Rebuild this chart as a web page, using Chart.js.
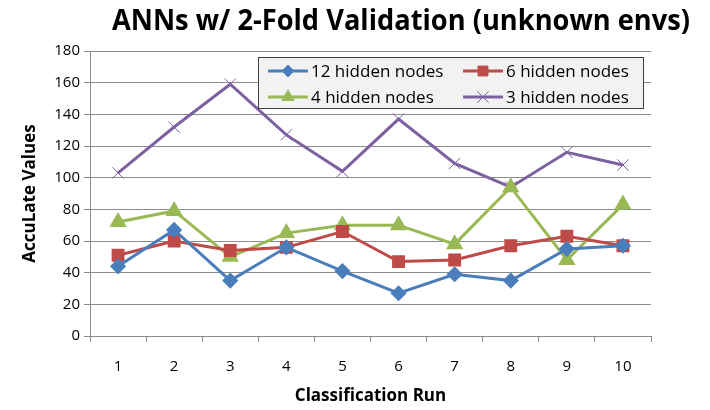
<!DOCTYPE html>
<html>
<head>
<meta charset="utf-8">
<script src="https://cdn.jsdelivr.net/npm/chart.js@4"></script>
<style>
  html, body { margin: 0; padding: 0; background: #fff; }
  #wrap { width: 710px; height: 410px; }
</style>
</head>
<body>
<div id="wrap"><canvas id="myChart" width="710" height="410"></canvas></div>
<script>
const runs = ['1', '2', '3', '4', '5', '6', '7', '8', '9', '10'];
const nodes12 = [44, 67, 35, 56, 41, 27, 39, 35, 55, 57];
const nodes6 = [51, 60, 54, 56, 66, 47, 48, 57, 63, 57];
const nodes4 = [72, 79, 50, 65, 70, 70, 58, 94, 48, 83];
const nodes3 = [103, 132, 159, 127, 104, 137, 109, 94, 116, 108];
const yTicks = [0, 20, 40, 60, 80, 100, 120, 140, 160, 180];

const fontFamily = '"Open Sans", "Liberation Sans", sans-serif';

// excel-like title and legend box drawn by hand
const extras = {
    id: 'extras',
    afterDraw(chart) {
        const ctx = chart.ctx;
        ctx.save();
        ctx.fillStyle = '#000';
        ctx.font = 'bold 29px ' + fontFamily;
        ctx.textAlign = 'center';
        ctx.textBaseline = 'middle';
        ctx.fillText('ANNs w/ 2-Fold Validation (unknown envs)', 401, 22, 578);

        // legend
        const bx = 258, by = 57, bw = 385, bh = 51;
        ctx.fillStyle = '#f2f2f2';
        ctx.fillRect(bx, by, bw, bh);
        ctx.strokeStyle = '#404040';
        ctx.lineWidth = 1;
        ctx.strokeRect(bx + 0.5, by + 0.5, bw, bh);

        const items = chart.data.datasets;
        const pos = [[268, 71], [463, 71], [268, 97], [463, 97]];
        ctx.font = '17px ' + fontFamily;
        ctx.textAlign = 'left';
        items.forEach((ds, i) => {
            const [x, y] = pos[i];
            ctx.strokeStyle = ds.borderColor;
            ctx.lineWidth = 3;
            ctx.beginPath();
            ctx.moveTo(x, y);
            ctx.lineTo(x + 40, y);
            ctx.stroke();
            ctx.fillStyle = ds.backgroundColor;
            ctx.lineWidth = ds.pointBorderWidth || 1;
            Chart.helpers.drawPoint(ctx, {
                pointStyle: ds.pointStyle,
                rotation: 0,
                radius: ds.pointRadius,
                borderWidth: ds.pointBorderWidth || 1
            }, x + 20, y);
            ctx.fillStyle = '#000';
            ctx.fillText(ds.label, x + 43, y + 1);
        });
        ctx.restore();
    }
};

const ctx = document.getElementById('myChart').getContext('2d');
new Chart(ctx, {
    type: 'line',
    data: {
        labels: runs,
        datasets: [{
            label: '12 hidden nodes',
            data: nodes12,
            borderColor: '#4a7ebb',
            backgroundColor: '#4a7ebb',
            pointStyle: 'rectRot',
            pointRadius: 6,
            borderWidth: 3
        }, {
            label: '6 hidden nodes',
            data: nodes6,
            borderColor: '#be4b48',
            backgroundColor: '#be4b48',
            pointStyle: 'rect',
            pointRadius: 7,
            borderWidth: 3
        }, {
            label: '4 hidden nodes',
            data: nodes4,
            borderColor: '#98b954',
            backgroundColor: '#98b954',
            pointStyle: 'triangle',
            pointRadius: 7,
            borderWidth: 3
        }, {
            label: '3 hidden nodes',
            data: nodes3,
            borderColor: '#7d60a0',
            backgroundColor: '#7d60a0',
            pointStyle: 'crossRot',
            pointRadius: 8,
            pointBorderWidth: 1,
            borderWidth: 3
        }]
    },
    options: {
        responsive: false,
        animation: false,
        layout: { padding: { left: 16, right: 59, top: 51, bottom: 0 } },
        plugins: {
            legend: { display: false },
            title: { display: false },
            tooltip: { enabled: false }
        },
        elements: { line: { tension: 0 } },
        scales: {
            x: {
                offset: true,
                grid: {
                    offset: true,
                    drawOnChartArea: false,
                    drawTicks: true,
                    tickLength: 6,
                    color: '#8c8c8c'
                },
                border: { color: '#8c8c8c' },
                ticks: { color: '#000', font: { family: fontFamily, size: 15 }, padding: 16 },
                title: {
                    display: true,
                    text: 'Classification Run',
                    color: '#000',
                    font: { family: fontFamily, size: 17, weight: 'bold' },
                    padding: { top: 2 }
                },
                afterFit(scale) { scale.height = 74; }
            },
            y: {
                min: 0,
                max: 180,
                afterBuildTicks(scale) { scale.ticks = yTicks.map(v => ({ value: v })); },
                grid: { color: '#8c8c8c', tickLength: 6 },
                border: { color: '#8c8c8c' },
                ticks: { color: '#000', font: { family: fontFamily, size: 15 }, padding: 4 },
                title: {
                    display: true,
                    text: 'AccuLate Values',
                    color: '#000',
                    font: { family: fontFamily, size: 17, weight: 'bold' },
                    padding: { bottom: 2 }
                },
                afterFit(scale) { scale.width = 74; }
            }
        }
    },
    plugins: [extras]
});
</script>
</body>
</html>
